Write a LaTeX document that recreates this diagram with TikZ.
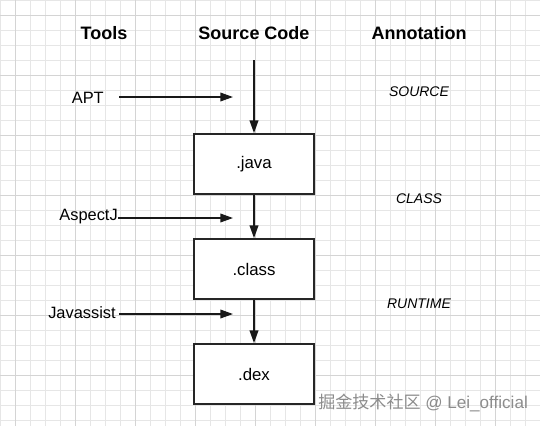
\documentclass[tikz,border=0pt]{standalone}
\usepackage{fontspec}
\setmainfont{Liberation Sans}
\newfontfamily\cjkfont{Noto Sans CJK SC}
\usetikzlibrary{arrows.meta}
\definecolor{gridminor}{HTML}{E6E6E6}
\definecolor{gridmajor}{HTML}{D4D4D4}
\begin{document}
\begin{tikzpicture}[x=0.75pt,y=-0.75pt,
  head/.style={font=\fontsize{13.5}{16}\selectfont\bfseries, inner sep=0pt},
  lbl/.style={font=\fontsize{12.3}{15}\selectfont, inner sep=0pt},
  anno/.style={font=\fontsize{10.5}{13}\selectfont\itshape, inner sep=0pt},
  stagebox/.style={draw=black!85, line width=1.3pt, fill=white, minimum width=90pt, minimum height=45pt, inner sep=0pt, font=\fontsize{12.6}{15}\selectfont},
  flow/.style={line width=1.1pt, draw=black!90, -{Triangle[length=9.5pt,width=6.5pt]}}
]
\useasboundingbox (0,0) rectangle (540,426);
\fill[white] (0,0) rectangle (540,426);
% grid
\foreach \i in {0,...,36} {
  \draw[gridminor, line width=0.6pt] (\i*15,0) -- (\i*15,426);
}
\foreach \j in {0,...,28} {
  \draw[gridminor, line width=0.6pt] (0,\j*15) -- (540,\j*15);
}
\foreach \i in {0,...,8} {
  \draw[gridmajor, line width=0.7pt] (15+\i*60,0) -- (15+\i*60,426);
}
\foreach \j in {0,...,6} {
  \draw[gridmajor, line width=0.7pt] (0,15+\j*60) -- (540,15+\j*60);
}
% headings
\node[head] (htools) at (104,33) {Tools};
\node[head] (hsrc) at (254,33) {Source Code};
\node[head] (hanno) at (419,33) {Annotation};
% boxes
\node[stagebox] (java) at (254,164) {.java};
\node[stagebox] (class) at (254,269) {.class};
\node[stagebox] (dex) at (254,374) {.dex};
\coordinate (srctop) at (254,60);
\draw[flow] (srctop) -- (java.north);
\draw[flow] (java.south) -- (class.north);
\draw[flow] (class.south) -- (dex.north);
% tools
\node[lbl, anchor=east] (apt) at (104,98) {APT};
\node[lbl, anchor=east] (aspectj) at (118,217) {AspectJ};
\node[lbl, anchor=east] (javassist) at (116,313) {Javassist};
\coordinate (aptend) at (233,97);
\coordinate (aspend) at (233,218);
\coordinate (javend) at (233,314);
\draw[flow] (119,97) -- (aptend);
\draw[flow] (aspectj.east |- aspend) -- (aspend);
\draw[flow] (119,314) -- (javend);
% annotations
\node[anno] (asrc) at (419,92) {SOURCE};
\node[anno] (acls) at (419,199) {CLASS};
\node[anno] (art) at (419,304) {RUNTIME};
% watermark
\node[inner sep=0pt, anchor=west, text=black!45, font=\fontsize{12.8}{15}\selectfont] (wm) at (318,403) {{\cjkfont 掘金技术社区} @ Lei\_official};
\end{tikzpicture}
\end{document}
